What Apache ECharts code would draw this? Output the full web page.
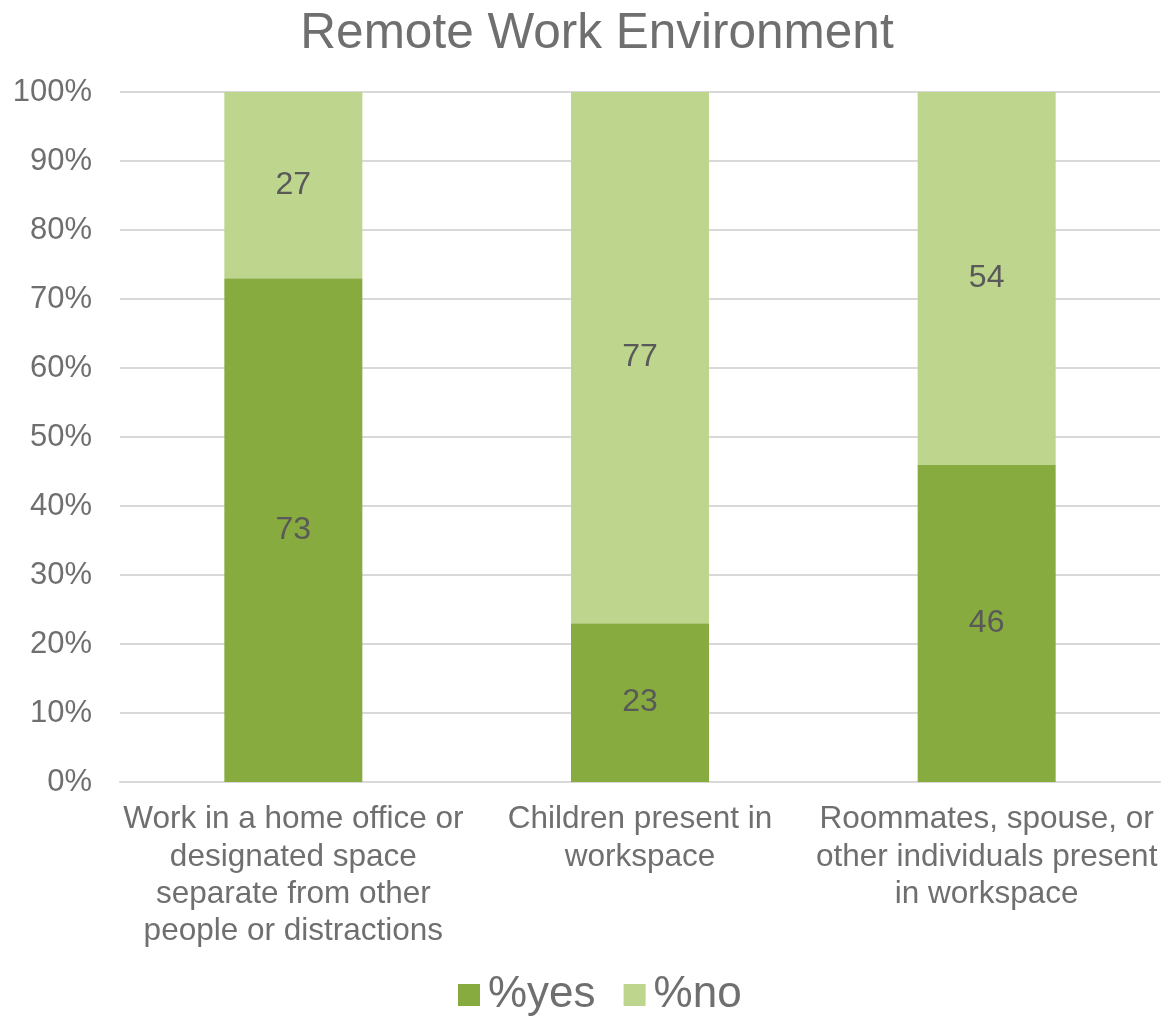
<!DOCTYPE html>
<html><head><meta charset="utf-8">
<script src="https://cdn.jsdelivr.net/npm/echarts@6/dist/echarts.min.js"></script>
<style>html,body{margin:0;padding:0;background:#fff}#c{width:1166px;height:1018px}</style>
</head><body><div id="c"></div>
<script>
const categories = [
  "Work in a home office or\ndesignated space\nseparate from other\npeople or distractions",
  "Children present in\nworkspace",
  "Roommates, spouse, or\nother individuals present\nin workspace"
];
const yesValues = [73, 23, 46];
const noValues = [27, 77, 54];
const seriesNames = ["%yes", "%no"];
const yTicks = [0, 10, 20, 30, 40, 50, 60, 70, 80, 90, 100];

const font = "'Liberation Sans', Arial, sans-serif";
const chart = echarts.init(document.getElementById('c'));
chart.setOption({
  animation: false,
  backgroundColor: '#fff',
  title: {
    text: 'Remote Work Environment', left: 592, textAlign: 'center', top: 4,
    textStyle: { fontFamily: font, fontSize: 49.5, fontWeight: 'normal', color: '#6f6f6f' }
  },
  grid: { left: 120, right: 6, top: 92, bottom: 236 },
  legend: {
    data: seriesNames, bottom: -4, left: 453, itemWidth: 22, itemHeight: 22, itemGap: 28,
    icon: 'rect',
    textStyle: { fontFamily: font, fontSize: 44, color: '#6f6f6f', padding: [0, 0, 0, 3] }
  },
  xAxis: {
    type: 'category', data: categories,
    axisLine: { lineStyle: { color: '#d9d9d9', width: 2 } },
    axisTick: { show: false },
    axisLabel: { fontFamily: font, fontSize: 31.5, color: '#6f6f6f', lineHeight: 37.3, margin: 19, interval: 0, align: 'center', verticalAlign: 'top' }
  },
  yAxis: {
    type: 'value', min: yTicks[0], max: yTicks[yTicks.length - 1], interval: 10,
    axisLine: { show: false }, axisTick: { show: false },
    splitLine: { lineStyle: { color: '#d9d9d9', width: 2 } },
    axisLabel: { fontFamily: font, fontSize: 31, color: '#6f6f6f', margin: 28, formatter: v => v + '%' }
  },
  series: [
    { name: seriesNames[0], type: 'bar', stack: 's', data: yesValues, barWidth: 138,
      itemStyle: { color: '#87ab3f' },
      label: { show: true, position: 'inside', fontFamily: font, fontSize: 32, color: '#595959' } },
    { name: seriesNames[1], type: 'bar', stack: 's', data: noValues, barWidth: 138,
      itemStyle: { color: '#bdd58c' },
      label: { show: true, position: 'inside', fontFamily: font, fontSize: 32, color: '#595959' } }
  ]
});
</script></body></html>
